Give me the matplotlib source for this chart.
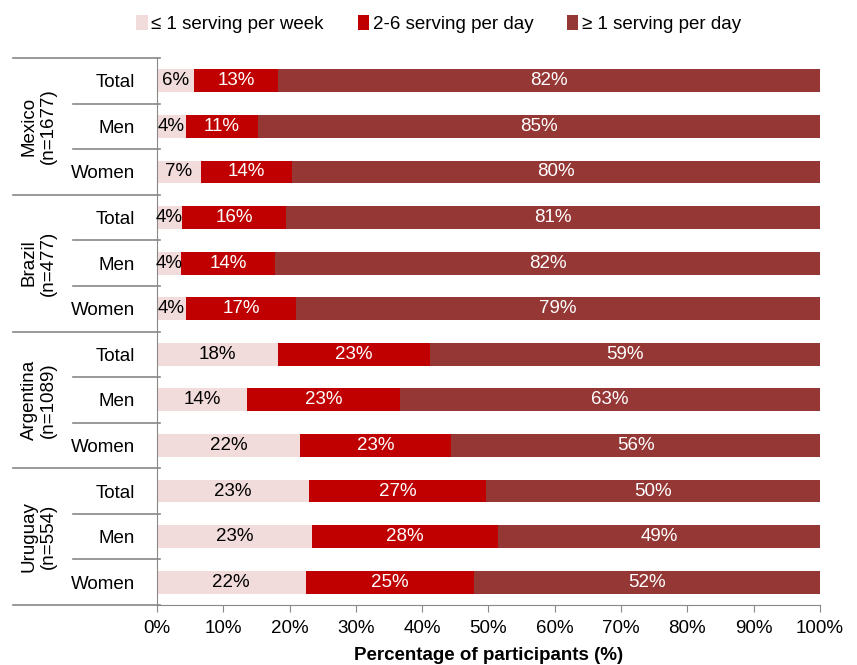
import matplotlib
matplotlib.use("Agg")
from matplotlib import pyplot as plt
import matplotlib.transforms as mtransforms

plt.rcParams['font.family'] = ['Liberation Sans', 'DejaVu Sans']

# data, one entry per row from top to bottom
countries = ["Mexico\n(n=1677)", "Brazil\n(n=477)", "Argentina\n(n=1089)", "Uruguay\n(n=554)"]
subgroups = ["Total", "Men", "Women"]
weekly = [5.6, 4.4, 6.6, 3.8, 3.6, 4.4, 18.3, 13.6, 21.6, 22.9, 23.4, 22.4]
few_daily = [12.6, 10.8, 13.8, 15.6, 14.2, 16.6, 22.9, 23.1, 22.8, 26.7, 28.0, 25.4]
daily = [81.8, 84.8, 79.6, 80.6, 82.2, 79.0, 58.8, 63.3, 55.6, 50.4, 48.6, 52.2]
series_names = ["≤ 1 serving per week", "2-6 serving per day", "≥ 1 serving per day"]
colors = ["#F2DCDB", "#C00000", "#953735"]
text_colors = ["black", "white", "white"]

fig = plt.figure(figsize=(8.57, 6.65), dpi=100)
ax = fig.add_axes([0.1832, 0.0902, 0.7736, 0.8226])

rows = list(range(len(weekly)))
left = [0.0] * len(rows)
for vals, col, tcol, name in zip([weekly, few_daily, daily], colors, text_colors, series_names):
    bars = ax.barh(rows, vals, left=left, height=0.5, color=col, label=name, linewidth=0)
    for y, v, l in zip(rows, vals, left):
        ax.text(l + v / 2, y, f"{v:.0f}%", ha="center", va="center", color=tcol, fontsize=13.5)
    left = [a + b for a, b in zip(left, vals)]

ax.set_xlim(0, 100)
ax.set_ylim(11.5, -0.5)
ax.set_xticks(range(0, 101, 10))
ax.set_xticklabels([f"{t}%" for t in range(0, 101, 10)], fontsize=13.5)
ax.set_yticks(rows)
ax.set_yticklabels(subgroups * len(countries), fontsize=13.5)
ax.tick_params(axis="y", length=0, pad=16)
ax.tick_params(axis="x", length=5, color="#888888", pad=6)
for s in ["top", "right"]:
    ax.spines[s].set_visible(False)
for s in ["left", "bottom"]:
    ax.spines[s].set_color("#888888")
ax.set_xlabel("Percentage of participants (%)", fontsize=13.5, fontweight="bold", labelpad=7)

# separators on the left side of the axes
trans = mtransforms.blended_transform_factory(ax.transAxes, ax.transData)
x_group = (13 - 157) / 663
x_row = (73 - 157) / 663
for i in range(len(rows) + 1):
    y = i - 0.5
    x0 = x_group if i % 3 == 0 else x_row
    ax.plot([x0, 0.004], [y, y], color="#888888", lw=1.2, transform=trans, clip_on=False)

for g, name in enumerate(countries):
    ax.text(-0.178, g * 3 + 1, name, rotation=90, ha="center", va="center",
            fontsize=13.5, transform=trans, linespacing=1.2)

fig.legend(loc="upper center", bbox_to_anchor=(0.512, 1.003), ncol=3, frameon=False,
           fontsize=13.5, handlelength=0.6, handleheight=0.9, handletextpad=0.2, columnspacing=1.8)

fig.savefig("out.png", dpi=100)
